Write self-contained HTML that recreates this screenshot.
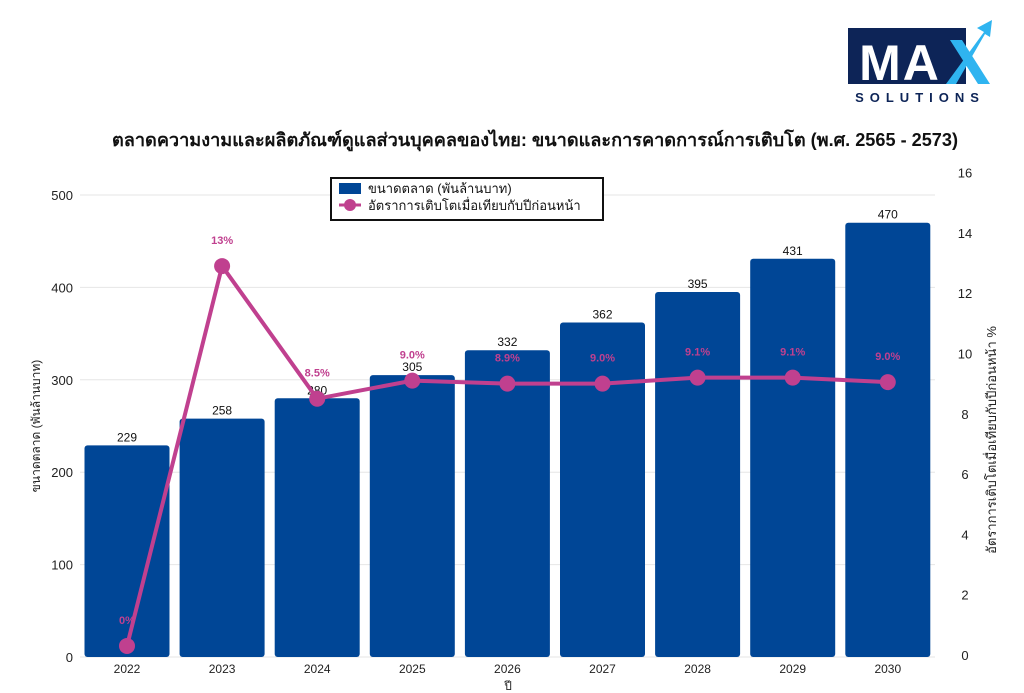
<!DOCTYPE html>
<html><head><meta charset="utf-8">
<style>
body{margin:0;background:#fff;}
svg{display:block;font-family:"Liberation Sans","DejaVu Sans",sans-serif;}
</style></head>
<body>
<svg id="c" width="1024" height="693" viewBox="0 0 1024 693">
  <g>
    <rect x="848" y="28" width="118" height="56" fill="#0d2457"/>
    <text x="900" y="80" text-anchor="middle" font-size="50" font-weight="bold" fill="#fff" letter-spacing="2">MA</text>
    <path d="M946 84 L984 32 L977 28 L992 20 L990 37 L985 34 L956 84 Z" fill="#2fb4f0"/>
    <path d="M950 40 L962 40 L990 84 L978 84 Z" fill="#2fb4f0"/>
    <text x="920" y="102" text-anchor="middle" font-size="13" font-weight="bold" fill="#0d2457" letter-spacing="6">SOLUTIONS</text>
  </g>
  <text x="535" y="146" text-anchor="middle" font-size="18" font-weight="bold" fill="#111" textLength="846" lengthAdjust="spacingAndGlyphs">ตลาดความงามและผลิตภัณฑ์ดูแลส่วนบุคคลของไทย: ขนาดและการคาดการณ์การเติบโต (พ.ศ. 2565 - 2573)</text>
  <g id="grid"></g>
  <g id="bars"></g>
  <g id="line"></g>
  <g id="axes"></g>
  <text transform="translate(40,426) rotate(-90)" text-anchor="middle" font-size="12" fill="#222">ขนาดตลาด (พันล้านบาท)</text>
  <text transform="translate(996,440) rotate(-90)" text-anchor="middle" font-size="13" fill="#222">อัตราการเติบโตเมื่อเทียบกับปีก่อนหน้า %</text>
  <text x="508" y="690" text-anchor="middle" font-size="12" fill="#222">ปี</text>
  <g>
    <rect x="331" y="178" width="272" height="42" fill="#fff" stroke="#111" stroke-width="2"/>
    <rect x="339" y="183" width="22" height="11" fill="#004696"/>
    <text x="368" y="193" font-size="13" fill="#111">ขนาดตลาด (พันล้านบาท)</text>
    <line x1="339" y1="205" x2="361" y2="205" stroke="#c0408f" stroke-width="3"/>
    <circle cx="350" cy="205" r="6" fill="#c0408f"/>
    <text x="368" y="210" font-size="13" fill="#111">อัตราการเติบโตเมื่อเทียบกับปีก่อนหน้า</text>
  </g>
</svg>
<script>
const years = ['2022','2023','2024','2025','2026','2027','2028','2029','2030'];
const marketSize = [229,258,280,305,332,362,395,431,470];
const growth = [0.3,12.9,8.5,9.1,9.0,9.0,9.2,9.2,9.05];
const growthLabels = ['0%','13%','8.5%','9.0%','8.9%','9.0%','9.1%','9.1%','9.0%'];
const leftTicks = [0,100,200,300,400,500];
const rightTicks = [0,2,4,6,8,10,12,14,16];

const NS='http://www.w3.org/2000/svg';
const yL = v => 657 - v*0.924;
const yR = v => 655 - v*30.15;
const xC = i => 127 + i*95.1;
const bw = 85;
function mk(tag, attrs, parent, txt){
  const e=document.createElementNS(NS,tag);
  for(const k in attrs) e.setAttribute(k,attrs[k]);
  if(txt!==undefined) e.textContent=txt;
  document.getElementById(parent).appendChild(e);
  return e;
}
leftTicks.forEach(t=>{
  const g=mk('line',{x1:80,x2:935,y1:yL(t),y2:yL(t),stroke:'#e6e6e6','stroke-width':1},'grid');
  
  
  const l=mk('text',{x:73,y:yL(t)+5,'text-anchor':'end','font-size':13,fill:'#222'},'axes',t);
  
  
});
rightTicks.forEach(t=>{
  const l=mk('text',{x:965,y:yR(t)+5,'text-anchor':'middle','font-size':13,fill:'#222'},'axes',t);
  
  
});
years.forEach((y,i)=>{
  const top=yL(marketSize[i]);
  const b=mk('rect',{x:xC(i)-bw/2,y:top,width:bw,height:657-top,rx:3,fill:'#004696'},'bars');
  
  
  const v=mk('text',{x:xC(i),y:top-4,'text-anchor':'middle','font-size':12,fill:'#111'},'bars',marketSize[i]);
  
  
  const xl=mk('text',{x:xC(i),y:673,'text-anchor':'middle','font-size':12,fill:'#222'},'axes',y);
  
  
});
const pts=growth.map((g,i)=>xC(i)+','+yR(g)).join(' ');
const pl=mk('polyline',{points:pts,fill:'none',stroke:'#c0408f','stroke-width':4},'line');


growth.forEach((g,i)=>{
  const c=mk('circle',{cx:xC(i),cy:yR(g),r:8,fill:'#c0408f'},'line');
  
  
  const t=mk('text',{x:xC(i),y:yR(g)-22,'text-anchor':'middle','font-size':11,'font-weight':'bold',fill:'#c0408f'},'line',growthLabels[i]);
  
  
});
</script>
</body></html>
